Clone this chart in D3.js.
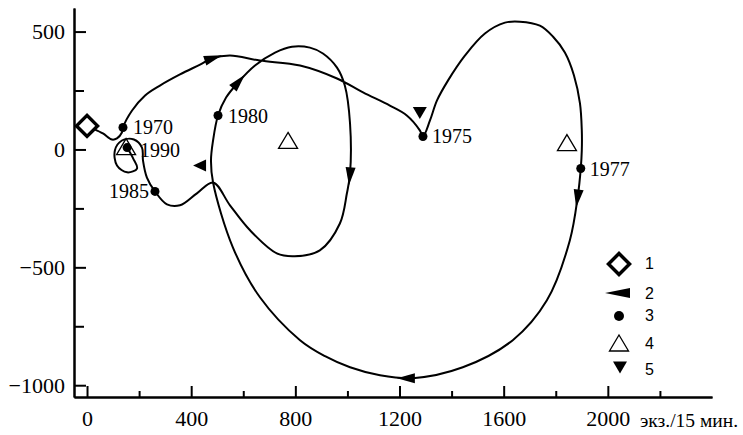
<!DOCTYPE html>
<html><head><meta charset="utf-8">
<script src="https://cdn.jsdelivr.net/npm/d3@7/dist/d3.min.js"></script>
<style>body{margin:0;background:#fff}</style>
</head><body>
<svg id="c" width="743" height="435"></svg>
<script>
// ---- data ----
const trajX = [0,23,61,96,115,134,138,173,223,280,357,434,480,549,664,818,960,1060,1163,1228,1278,1290,
  1317,1344,1386,1451,1528,1605,1662,1739,1789,1835,1870,1893,1900,1900,1896,1885,1854,1766,1635,1443,1251,1125,1010,914,818,664,560,484,
  476,484,503,534,580,645,722,787,856,906,960,990,1010,1010,998,971,894,798,729,626,549,484,
  422,357,307,261,230,215,211,180,134,107,115,154,192,177,154];
const trajY = [100,89,68,42,47,72,93,165,229,271,318,360,386,398,377,356,301,242,186,144,81,55,
  123,208,292,398,492,538,542,525,479,411,314,195,81,-4,-81,-195,-386,-640,-809,-924,-970,-958,-924,-877,-809,-627,-415,-140,
  -47,38,144,220,284,356,411,436,432,407,347,271,110,-102,-186,-314,-428,-453,-441,-343,-237,-140,
  -186,-237,-233,-178,-119,-47,8,42,38,-4,-68,-97,-81,-38,8];
const startX = [0], startY = [100];                       // legend 1
const yearLabels = ["1970","1975","1977","1980","1985","1990"];
const yearX = [138,1290,1896,503,261,154];
const yearY = [93,55,-81,144,-178,8];                      // legend 3
const openTriX = [150,772,1843], openTriY = [8,34,25];     // legend 4
const downTriX = [1278], downTriY = [157];                 // legend 5
const leftTriX = [434], leftTriY = [-68];                  // legend 2
const arrowX = [480,580,1010,1885,1228];
const arrowY = [386,284,-110,-203,-970];
const xMajor = [0,400,800,1200,1600,2000];
const xMinor = [200,600,1000,1400,1800,2200];
const yMajor = [-1000,-500,0,500];
const yMinor = [-750,-250,250];
const xUnit = "экз./15 мин.";
const legendLabels = ["1","2","3","4","5"];

// ---- drawing ----
const svg = d3.select('#c');
const serif = '"Liberation Serif","Times New Roman",serif';
const sans = '"Liberation Sans",Arial,sans-serif';
const x = d3.scaleLinear().domain([-50,2400]).range([74,712]);
const y = d3.scaleLinear().domain([-1050,600]).range([397,8]);

function styleAxis(g){
  g.selectAll('path,line').attr('stroke','#000').attr('stroke-width',2);
  g.selectAll('text').attr('font-family',serif).attr('font-size',22).attr('fill','#000');
}
const gxm = svg.append('g').attr('transform','translate(0,397)')
  .call(d3.axisBottom(x).tickValues(xMinor).tickSize(-6).tickSizeOuter(0).tickFormat(''));
const gx = svg.append('g').attr('transform','translate(0,397)')
  .call(d3.axisBottom(x).tickValues(xMajor).tickSize(-11).tickSizeOuter(0).tickPadding(13).tickFormat(d3.format('d')));
const gym = svg.append('g').attr('transform','translate(74,0)')
  .call(d3.axisLeft(y).tickValues(yMinor).tickSize(-10).tickSizeOuter(0).tickFormat(''));
const gy = svg.append('g').attr('transform','translate(74,0)')
  .call(d3.axisLeft(y).tickValues(yMajor).tickSize(-12).tickSizeOuter(0).tickPadding(9).tickFormat(d3.format('d')));
[gxm,gx,gym,gy].forEach(styleAxis);
gx.selectAll('text').attr('dy','0.71em');
svg.append('text').attr('x',640).attr('y',427).attr('font-family',serif).attr('font-size',19.5).text(xUnit);

// trajectory
const pts = trajX.map((v,i)=>[v,trajY[i]]);
const line = d3.line().x(d=>x(d[0])).y(d=>y(d[1])).curve(d3.curveCatmullRom.alpha(0.5));
const path = svg.append('path').attr('d',line(pts)).attr('fill','none').attr('stroke','#000').attr('stroke-width',2);

// arrows oriented along path
const node = path.node(), total = node.getTotalLength();
const samples = d3.range(0,total,1).map(l=>{const p=node.getPointAtLength(l);return [l,p.x,p.y];});
arrowX.forEach((ax,i)=>{
  const px=x(ax), py=y(arrowY[i]);
  let best=samples[0],bd=1e9;
  samples.forEach(s=>{const d=(s[1]-px)**2+(s[2]-py)**2;if(d<bd){bd=d;best=s;}});
  const a=node.getPointAtLength(Math.max(0,best[0]-3)), b=node.getPointAtLength(Math.min(total,best[0]+3));
  const ang=Math.atan2(b.y-a.y,b.x-a.x)*180/Math.PI;
  svg.append('path').attr('d','M10,0 L-8,-5 L-8,5 Z').attr('fill','#000')
    .attr('transform',`translate(${best[1]},${best[2]}) rotate(${ang})`);
});

// markers
function diamond(g,cx,cy){g.append('path').attr('d','M0,-10.5 L10.5,0 L0,10.5 L-10.5,0 Z').attr('transform',`translate(${cx},${cy})`)
  .attr('fill','#fff').attr('stroke','#000').attr('stroke-width',3.5);}
function openTri(g,cx,cy){g.append('path').attr('d','M0,-9 L9.5,7 L-9.5,7 Z').attr('transform',`translate(${cx},${cy})`)
  .attr('fill','none').attr('stroke','#000').attr('stroke-width',1.3);}
function downTri(g,cx,cy){g.append('path').attr('d','M-7,-5.5 L7,-5.5 L0,6.5 Z').attr('transform',`translate(${cx},${cy})`).attr('fill','#000');}
function leftTri(g,cx,cy,w,h,b){g.append('path').attr('d',`M${-w},0 L${b},${-h} L${b},${h} Z`).attr('transform',`translate(${cx},${cy})`).attr('fill','#000');}
function dot(g,cx,cy,r){g.append('circle').attr('cx',cx).attr('cy',cy).attr('r',r).attr('fill','#000');}

openTriX.forEach((v,i)=>openTri(svg,x(v),y(openTriY[i])));
startX.forEach((v,i)=>diamond(svg,x(v),y(startY[i])));
downTriX.forEach((v,i)=>downTri(svg,x(v),y(downTriY[i])));
leftTriX.forEach((v,i)=>leftTri(svg,x(v),y(leftTriY[i]),7,6,6));
const labOff = {"1970":[10,6,'start'],"1975":[9,7,'start'],"1977":[9,7,'start'],"1980":[10,7,'start'],"1985":[-6,7,'end'],"1990":[13,9,'start']};
yearX.forEach((v,i)=>{
  dot(svg,x(v),y(yearY[i]),4.5);
  const o=labOff[yearLabels[i]];
  svg.append('text').attr('x',x(v)+o[0]).attr('y',y(yearY[i])+o[1]).attr('text-anchor',o[2])
    .attr('font-family',serif).attr('font-size',20).text(yearLabels[i]);
});

// legend
const lg = svg.append('g');
const ly = [264,293,316,344,367];
const lty = [263,293,315,343,369];
diamond(lg,619,ly[0]);
leftTri(lg,618,ly[1],13,5,12);
dot(lg,619,ly[2],5);
openTri(lg,619,ly[3]);
downTri(lg,620,ly[4]);
legendLabels.forEach((t,i)=>lg.append('text').attr('x',645).attr('y',lty[i]).attr('dy','0.36em').attr('font-family',sans).attr('font-size',16).text(t));
</script>
</body></html>
